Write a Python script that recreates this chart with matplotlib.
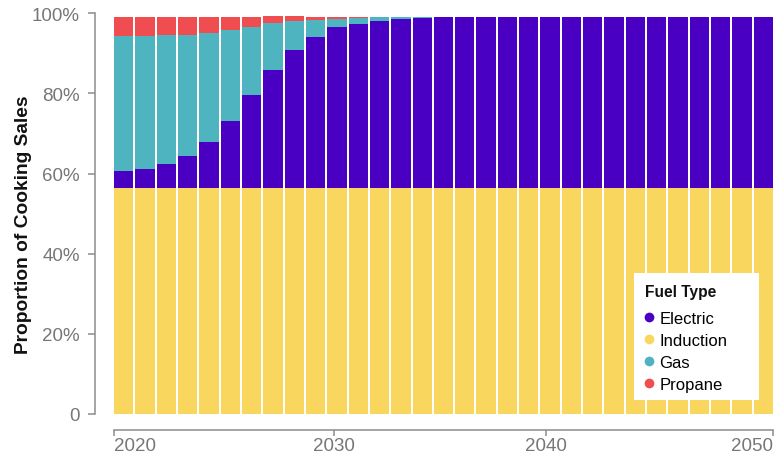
import matplotlib
matplotlib.use("Agg")
import matplotlib.pyplot as plt
from matplotlib.lines import Line2D
from matplotlib.patches import Rectangle
import numpy as np

plt.rcParams['font.family'] = ['Liberation Sans', 'DejaVu Sans']

years = list(range(2020, 2051))
induction = [56.4] * 31
electric = [4.3, 4.8, 6.1, 8.1, 11.6, 16.7, 23.2, 29.4, 34.4, 37.8, 40.3, 41.0, 41.75, 42.25, 42.5] + [42.75] * 16
gas = [33.6, 33.1, 32.2, 30.2, 27.2, 22.7, 17.05, 11.8, 7.3, 4.25, 2.0, 1.5, 1.0, 0.5, 0.25] + [0.0] * 16
propane = [4.8, 4.8, 4.5, 4.5, 4.0, 3.3, 2.5, 1.75, 1.25, 0.75, 0.5, 0.25] + [0.0] * 19

series_order = ["Induction", "Electric", "Gas", "Propane"]
legend_order = ["Electric", "Induction", "Gas", "Propane"]
colors = {"Electric": "#4a00c2", "Induction": "#f9d65e", "Gas": "#4db4c0", "Propane": "#ef4d50"}
values = {"Induction": induction, "Electric": electric, "Gas": gas, "Propane": propane}

xtick_labels = ["2020", "2030", "2040", "2050"]
xtick_pos = [0.05, 10.38, 20.30, 30.97]
ytick_vals = [0, 20, 40, 60, 80, 100]
ytick_labels = ["0", "20%", "40%", "60%", "80%", "100%"]

W, H = 776, 456
fig = plt.figure(figsize=(W / 100, H / 100), dpi=100)
ax = fig.add_axes([113 / W, (H - 415) / H, 661 / W, (415 - 14.3) / H])

x = np.arange(len(years)) + 0.5
bottom = np.zeros(len(years))
for name in series_order:
    v = np.array(values[name])
    ax.bar(x, v, bottom=bottom, width=0.905, color=colors[name], linewidth=0, zorder=2)
    bottom += v

ax.set_xlim(0, 31)
ax.set_ylim(0, 100)

grey = "#8c8c8c"
for s in ["top", "right"]:
    ax.spines[s].set_visible(False)
ax.spines["left"].set_position(("outward", 13))
ax.spines["bottom"].set_position(("outward", 11.7))
ax.spines["left"].set_color(grey)
ax.spines["bottom"].set_color(grey)
ax.spines["left"].set_linewidth(1.1)
ax.spines["bottom"].set_linewidth(1.1)
ax.spines["bottom"].set_bounds(xtick_pos[0], xtick_pos[-1])

ax.set_yticks(ytick_vals)
ax.set_yticklabels(ytick_labels)
ax.set_xticks(xtick_pos)
ax.set_xticklabels(xtick_labels)
ax.tick_params(axis="y", length=5, width=1.1, color=grey, labelcolor="#777777", labelsize=13.5, pad=6)
ax.tick_params(axis="x", length=4.3, width=1.1, color=grey, labelcolor="#777777", labelsize=13.5, pad=0.5)
xl = ax.get_xticklabels()
xl[0].set_horizontalalignment("left")
xl[-1].set_horizontalalignment("right")

ax.set_ylabel("Proportion of Cooking Sales", fontsize=13.8, fontweight="bold", color="#111111")
ax.yaxis.set_label_coords((32 - 113) / 661, (415 - 225) / (415 - 14.3))

# legend box
ax.add_patch(Rectangle((634 / W, 1 - 401 / H), 125 / W, 127 / H, transform=fig.transFigure,
                       facecolor="white", edgecolor="none", zorder=4, clip_on=False))
ax.text(645 / W, 1 - 292 / H, "Fuel Type", transform=fig.transFigure, ha="left", va="center",
        fontsize=11.2, fontweight="bold", color="#111111", zorder=6)
handles = [Line2D([], [], marker="o", linestyle="", markersize=7, color=colors[n], markeredgewidth=0) for n in legend_order]
leg = ax.legend(handles, legend_order, loc="upper left",
                bbox_to_anchor=(644 / W, 1 - 312 / H), bbox_transform=fig.transFigure,
                frameon=False, fontsize=12, handletextpad=0.32, handlelength=0.6,
                labelspacing=0.42, borderpad=0, borderaxespad=0)
leg.set_zorder(5)

fig.savefig("out.png", dpi=100)
